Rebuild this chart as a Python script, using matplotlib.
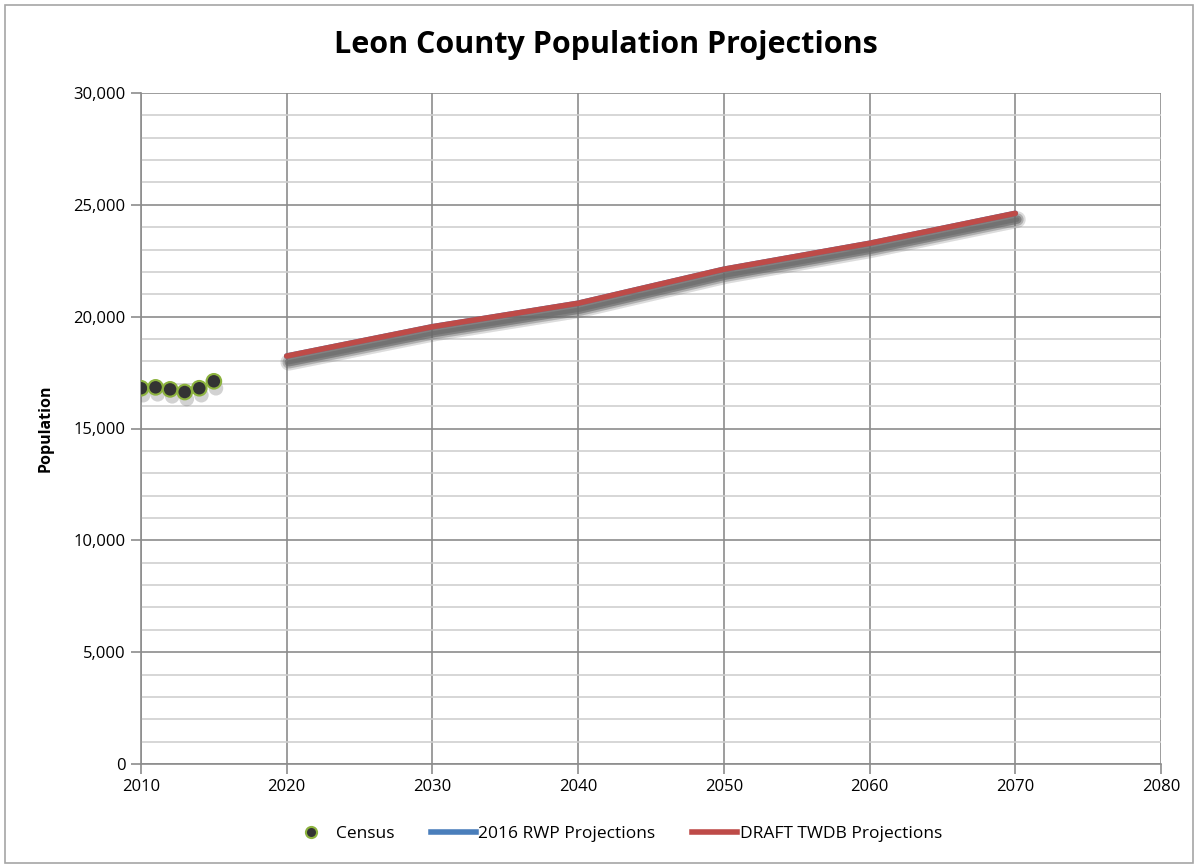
import numpy as np
import matplotlib
matplotlib.use("Agg")
import matplotlib.pyplot as plt
import matplotlib.patheffects as pe
from matplotlib.lines import Line2D
from matplotlib.ticker import FuncFormatter, MultipleLocator

# Data
census_years = [2010, 2011, 2012, 2013, 2014, 2015]
census_pop = [16800, 16840, 16750, 16630, 16800, 17110]

proj_years = [2020, 2030, 2040, 2050, 2060, 2070]
rwp_pop = [18240, 19550, 20600, 22120, 23280, 24620]
twdb_pop = [18240, 19550, 20600, 22120, 23280, 24620]

plt.rcParams['font.family'] = ['Open Sans', 'DejaVu Sans']

fig = plt.figure(figsize=(11.98, 8.65), dpi=100)
ax = fig.add_axes([141 / 1198, 1 - 764 / 865, (1161 - 141) / 1198, (764 - 93) / 865])

# outer frame of the chart
fig.patches.append(plt.Rectangle((5 / 1198, 2 / 865), 1188 / 1198, 858 / 865,
                                 transform=fig.transFigure, fill=False,
                                 edgecolor='#a6a6a6', linewidth=1.2))

# soft shadow: a few stacked translucent strokes
line_shadow = [pe.SimpleLineShadow(offset=(1.5, -4.5), shadow_color='#6a6a6a', alpha=0.12, linewidth=12),
               pe.SimpleLineShadow(offset=(1.5, -4.5), shadow_color='#6a6a6a', alpha=0.22, linewidth=9),
               pe.SimpleLineShadow(offset=(1.5, -4.5), shadow_color='#6a6a6a', alpha=0.4, linewidth=6),
               pe.SimpleLineShadow(offset=(1.5, -4.5), shadow_color='#6a6a6a', alpha=0.4, linewidth=3),
               pe.Normal()]
dot_shadow = [pe.SimplePatchShadow(offset=(1.5, -5), shadow_rgbFace='#6a6a6a', alpha=0.3),
              pe.Normal()]

ax.plot(proj_years, rwp_pop, color='#4a7ebb', linewidth=4,
        path_effects=line_shadow, zorder=3, solid_capstyle='round')
ax.plot(proj_years, twdb_pop, color='#be4b48', linewidth=4,
        path_effects=line_shadow, zorder=4, solid_capstyle='round')
ax.plot(census_years, census_pop, linestyle='none', marker='o', markersize=10.5,
        markerfacecolor='#333333', markeredgecolor='#8db33f', markeredgewidth=1.5,
        zorder=5, path_effects=dot_shadow)

ax.set_xlim(2010, 2080)
ax.set_ylim(0, 30000)
ax.xaxis.set_major_locator(MultipleLocator(10))
ax.yaxis.set_major_locator(MultipleLocator(5000))
ax.yaxis.set_minor_locator(MultipleLocator(1000))
ax.yaxis.set_major_formatter(FuncFormatter(lambda v, p: f'{int(v):,}'))

ax.grid(which='major', color='#8c8c8c', linewidth=1.2)
ax.grid(which='minor', axis='y', color='#cfcfcf', linewidth=1.2)
ax.set_axisbelow(True)
for s in ['top', 'right']:
    ax.spines[s].set_visible(False)
for s in ['left', 'bottom']:
    ax.spines[s].set_color('#8c8c8c')
    ax.spines[s].set_linewidth(1.2)
ax.tick_params(which='major', length=7, color='#8c8c8c', width=1.2, labelsize=12, pad=4)
ax.tick_params(which='minor', length=0)

ax.set_ylabel('Population', fontsize=11.5, fontweight='bold', labelpad=14)
fig.text(606 / 1198, 1 - 45 / 865, 'Leon County Population Projections', ha='center',
         va='center', fontsize=22, fontweight='bold')

handles = [Line2D([], [], linestyle='none', marker='o', markersize=8, markerfacecolor='#333333',
                  markeredgecolor='#8db33f', markeredgewidth=1.5),
           Line2D([], [], color='#4a7ebb', linewidth=4),
           Line2D([], [], color='#be4b48', linewidth=4)]
labels = ['Census', '2016 RWP Projections', 'DRAFT TWDB Projections']
fig.legend(handles, labels, loc='center', bbox_to_anchor=(615 / 1198, 1 - 834 / 865), ncol=3,
           frameon=False, fontsize=12.5, handlelength=2.6, handletextpad=0.15, columnspacing=2.1)

fig.savefig('out.png', dpi=100)
